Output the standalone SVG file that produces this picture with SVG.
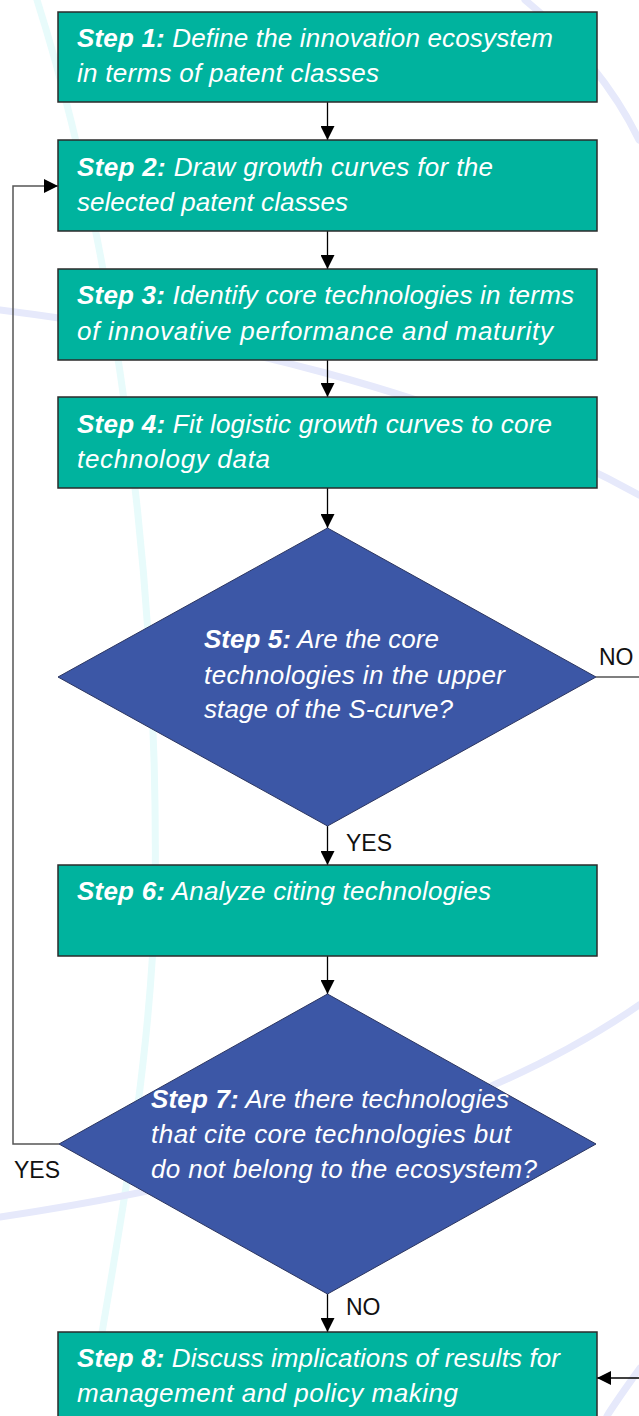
<svg xmlns="http://www.w3.org/2000/svg" width="639" height="1416" viewBox="0 0 639 1416">
<style>
.bgc{fill:none;stroke-width:7;stroke-linecap:round}
.cy{stroke:#e8fbfb}
.lv{stroke:#e6e9fb}
.box{fill:#00b39e;stroke:#2b2b2b;stroke-width:1.5}
.dia{fill:#3c57a6;stroke:#2b3560;stroke-width:1}
.t{font-family:"Liberation Sans",Arial,sans-serif;font-size:26px;font-style:italic;fill:#ffffff}
.b{font-weight:bold}
.lbl{font-family:"Liberation Sans",Arial,sans-serif;font-size:23px;fill:#111111}
.c{fill:none;stroke:#000000;stroke-width:1.3}
.cg{fill:none;stroke:#555555;stroke-width:1.5}
</style>
<defs>
<marker id="ah" markerUnits="userSpaceOnUse" markerWidth="14" markerHeight="14" viewBox="0 0 14 14" refX="14" refY="7" orient="auto">
<path d="M0,0 L14,7 L0,14 z" fill="#000000"/>
</marker>
</defs>
<rect x="0" y="0" width="639" height="1416" fill="#ffffff"/>
<g id="background">
<path class="bgc cy" d="M37,0 C110,230 160,560 155,900 C150,1080 115,1250 88,1416"/>
<path class="bgc lv" d="M0,310 C200,335 450,390 639,495"/>
<path class="bgc lv" d="M639,1005 C560,1060 380,1160 0,1217"/>
<path class="bgc lv" d="M640,1368 C628,1385 617,1400 607,1416"/>
<path class="bgc lv" d="M525,0 C575,40 615,90 639,140"/>
</g>
<g id="connectors">
<line class="c" x1="327.5" y1="102" x2="327.5" y2="140" marker-end="url(#ah)"/>
<line class="c" x1="327.5" y1="231" x2="327.5" y2="269" marker-end="url(#ah)"/>
<line class="c" x1="327.5" y1="360" x2="327.5" y2="397" marker-end="url(#ah)"/>
<line class="c" x1="327.5" y1="488" x2="327.5" y2="528" marker-end="url(#ah)"/>
<line class="c" x1="327.5" y1="826" x2="327.5" y2="865" marker-end="url(#ah)"/>
<line class="c" x1="327.5" y1="956" x2="327.5" y2="994" marker-end="url(#ah)"/>
<line class="c" x1="327.5" y1="1294" x2="327.5" y2="1332" marker-end="url(#ah)"/>
<polyline class="cg" points="59,1144 13,1144 13,186 58,186" marker-end="url(#ah)"/>
<line class="cg" x1="596" y1="677" x2="639" y2="677"/>
<line class="c" x1="639" y1="1378" x2="597" y2="1378" marker-end="url(#ah)"/>
<text class="lbl" x="346" y="851">YES</text>
<text class="lbl" x="599" y="665">NO</text>
<text class="lbl" x="14" y="1178">YES</text>
<text class="lbl" x="346" y="1315">NO</text>
</g>
<g id="step1">
<rect class="box" x="58" y="12" width="539" height="90"/>
<text class="t" x="77" y="47" textLength="476"><tspan class="b">Step 1:</tspan> Define the innovation ecosystem</text>
<text class="t" x="77" y="82" textLength="302">in terms of patent classes</text>
</g>
<g id="step2">
<rect class="box" x="58" y="140" width="539" height="91"/>
<text class="t" x="77" y="176" textLength="416"><tspan class="b">Step 2:</tspan> Draw growth curves for the</text>
<text class="t" x="77" y="211" textLength="271">selected patent classes</text>
</g>
<g id="step3">
<rect class="box" x="58" y="269" width="539" height="91"/>
<text class="t" x="77" y="304" textLength="497"><tspan class="b">Step 3:</tspan> Identify core technologies in terms</text>
<text class="t" x="77" y="340" textLength="476">of innovative performance and maturity</text>
</g>
<g id="step4">
<rect class="box" x="58" y="397" width="539" height="91"/>
<text class="t" x="77" y="433" textLength="475"><tspan class="b">Step 4:</tspan> Fit logistic growth curves to core</text>
<text class="t" x="77" y="468" textLength="193">technology data</text>
</g>
<g id="step5">
<polygon class="dia" points="327.5,528 596,677 327.5,826 58,677"/>
<text class="t" x="204" y="648" textLength="235"><tspan class="b">Step 5:</tspan> Are the core</text>
<text class="t" x="204" y="684" textLength="301">technologies in the upper</text>
<text class="t" x="204" y="718" textLength="249">stage of the S-curve?</text>
</g>
<g id="step6">
<rect class="box" x="58" y="865" width="539" height="91"/>
<text class="t" x="77" y="900" textLength="414"><tspan class="b">Step 6:</tspan> Analyze citing technologies</text>
</g>
<g id="step7">
<polygon class="dia" points="327.5,994 596,1144 327.5,1294 59,1144"/>
<text class="t" x="151" y="1108" textLength="358"><tspan class="b">Step 7:</tspan> Are there technologies</text>
<text class="t" x="151" y="1143" textLength="360">that cite core technologies but</text>
<text class="t" x="151" y="1178" textLength="386">do not belong to the ecosystem?</text>
</g>
<g id="step8">
<rect class="box" x="58" y="1332" width="539" height="100"/>
<text class="t" x="77" y="1367" textLength="483"><tspan class="b">Step 8:</tspan> Discuss implications of results for</text>
<text class="t" x="77" y="1402" textLength="381">management and policy making</text>
</g>
</svg>
